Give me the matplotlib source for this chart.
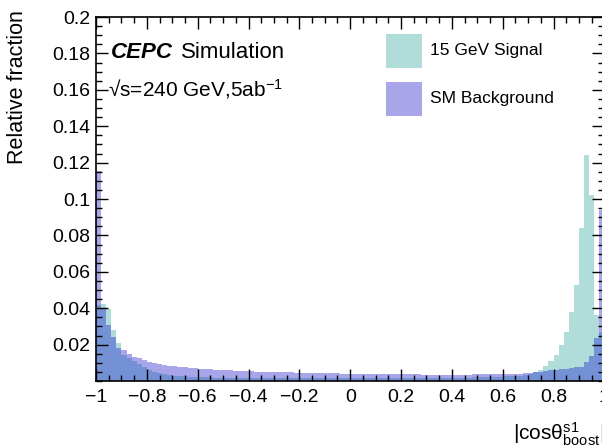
import numpy as np
import matplotlib
matplotlib.use("Agg")
import matplotlib.pyplot as plt
from matplotlib.ticker import MultipleLocator, FuncFormatter

# |cos theta| distributions, 100 bins from -1 to 1
edges = np.linspace(-1.0, 1.0, 101)

signal = [
    0.0420, 0.0425, 0.0395, 0.0280, 0.0208, 0.0143, 0.0126, 0.0110, 0.0092, 0.0076,
    0.0062, 0.0052, 0.0044, 0.0037, 0.0032, 0.0029, 0.0027, 0.0025, 0.0023, 0.0022,
    0.0021, 0.0020, 0.0020, 0.0019, 0.0019, 0.0018, 0.0018, 0.0018, 0.0017, 0.0017,
    0.0017, 0.0017, 0.0016, 0.0016, 0.0016, 0.0016, 0.0016, 0.0016, 0.0016, 0.0016,
    0.0016, 0.0016, 0.0016, 0.0016, 0.0016, 0.0016, 0.0016, 0.0016, 0.0016, 0.0016,
    0.0016, 0.0016, 0.0016, 0.0016, 0.0016, 0.0016, 0.0016, 0.0016, 0.0016, 0.0016,
    0.0016, 0.0016, 0.0016, 0.0016, 0.0016, 0.0017, 0.0017, 0.0017, 0.0017, 0.0018,
    0.0018, 0.0018, 0.0019, 0.0019, 0.0020, 0.0020, 0.0021, 0.0022, 0.0023, 0.0024,
    0.0025, 0.0026, 0.0028, 0.0030, 0.0034, 0.0038, 0.0048, 0.0062, 0.0082, 0.0110,
    0.0145, 0.0200, 0.0270, 0.0380, 0.0530, 0.0840, 0.1240, 0.1020, 0.0360, 0.0270,
]

background = [
    0.1155, 0.0395, 0.0310, 0.0243, 0.0180, 0.0170, 0.0148, 0.0134, 0.0124, 0.0115,
    0.0107, 0.0100, 0.0094, 0.0089, 0.0085, 0.0081, 0.0078, 0.0075, 0.0072, 0.0070,
    0.0068, 0.0066, 0.0064, 0.0062, 0.0061, 0.0059, 0.0058, 0.0056, 0.0055, 0.0054,
    0.0053, 0.0052, 0.0051, 0.0050, 0.0050, 0.0049, 0.0048, 0.0048, 0.0047, 0.0046,
    0.0046, 0.0045, 0.0045, 0.0044, 0.0043, 0.0043, 0.0042, 0.0042, 0.0041, 0.0041,
    0.0040, 0.0040, 0.0039, 0.0039, 0.0038, 0.0038, 0.0038, 0.0037, 0.0037, 0.0037,
    0.0036, 0.0036, 0.0036, 0.0036, 0.0035, 0.0035, 0.0035, 0.0035, 0.0035, 0.0035,
    0.0035, 0.0035, 0.0035, 0.0035, 0.0036, 0.0036, 0.0036, 0.0036, 0.0037, 0.0037,
    0.0038, 0.0039, 0.0040, 0.0041, 0.0043, 0.0045, 0.0048, 0.0052, 0.0056, 0.0060,
    0.0062, 0.0064, 0.0066, 0.0070, 0.0075, 0.0078, 0.0105, 0.0140, 0.0236, 0.0940,
]

labels = ["15 GeV Signal", "SM Background"]

col_sig = "#b0dcd9"
col_bkg = "#a8a6e8"
col_both = "#7491d6"

plt.rcParams['font.family'] = ['Liberation Sans', 'DejaVu Sans']
plt.rcParams['mathtext.fontset'] = 'custom'
plt.rcParams['mathtext.rm'] = 'Liberation Sans'
plt.rcParams['mathtext.it'] = 'Liberation Sans:italic'
plt.rcParams['axes.unicode_minus'] = True

fig = plt.figure(figsize=(6.02, 4.47), dpi=100)
ax = fig.add_axes([96/602, 1 - 381/447, 1 - 96/602 + 0.004, (381 - 17)/447])

s = np.array(signal)
b = np.array(background)
ax.stairs(s, edges, fill=True, color=col_sig, lw=0)
ax.stairs(b, edges, fill=True, color=col_bkg, lw=0)
ax.stairs(np.minimum(s, b), edges, fill=True, color=col_both, lw=0)

ax.set_xlim(-1, 1)
ax.set_ylim(0, 0.2)
ax.xaxis.set_major_locator(MultipleLocator(0.2))
ax.xaxis.set_minor_locator(MultipleLocator(0.05))
ax.set_yticks(np.arange(0.02, 0.2001, 0.02))
ax.yaxis.set_minor_locator(MultipleLocator(0.005))
fmt = FuncFormatter(lambda v, p: ("%g" % round(v, 3)).replace("-", "\u2212"))
ax.xaxis.set_major_formatter(fmt)
ax.yaxis.set_major_formatter(fmt)
ax.tick_params(which='both', direction='in', top=True, right=True, labelsize=14, width=1)
ax.tick_params(which='major', length=8.5, pad=6)
ax.tick_params(axis='y', which='major', pad=4)
ax.tick_params(which='minor', length=4.5)
for sp in ax.spines.values():
    sp.set_linewidth(1.2)

fig.text(18/602, 1 - 10/447, "Relative fraction", rotation=90, ha='center', va='top', fontsize=15.5)
fig.text(513/602, 1 - 440/447, r"|cos$\mathrm{\theta}^{\mathrm{s1}}_{\mathrm{boost}}$|", ha='left',
         va='baseline', fontsize=15)

ax.text(111/602, 1 - 53/447, "CEPC", transform=fig.transFigure, fontsize=16,
        fontweight='bold', fontstyle='italic', va='center')
ax.text(181/602, 1 - 53/447, "Simulation", transform=fig.transFigure, fontsize=16, va='center')
ax.text(108/602, 1 - 89/447, "\u221as=240 GeV,5ab$^{\\mathrm{-1}}$",
        transform=fig.transFigure, fontsize=15, va='center')

# legend boxes
for i, (lab, c) in enumerate(zip(labels, [col_sig, col_bkg])):
    y0 = 1 - (68 + 48 * i)/447
    fig.patches.append(plt.Rectangle((386/602, y0), 36/602, 34/447, transform=fig.transFigure,
                                     color=c, lw=0))
    fig.text(430/602, y0 + 17/447, lab, fontsize=12.5, va='center')

fig.savefig("out.png", dpi=100)
